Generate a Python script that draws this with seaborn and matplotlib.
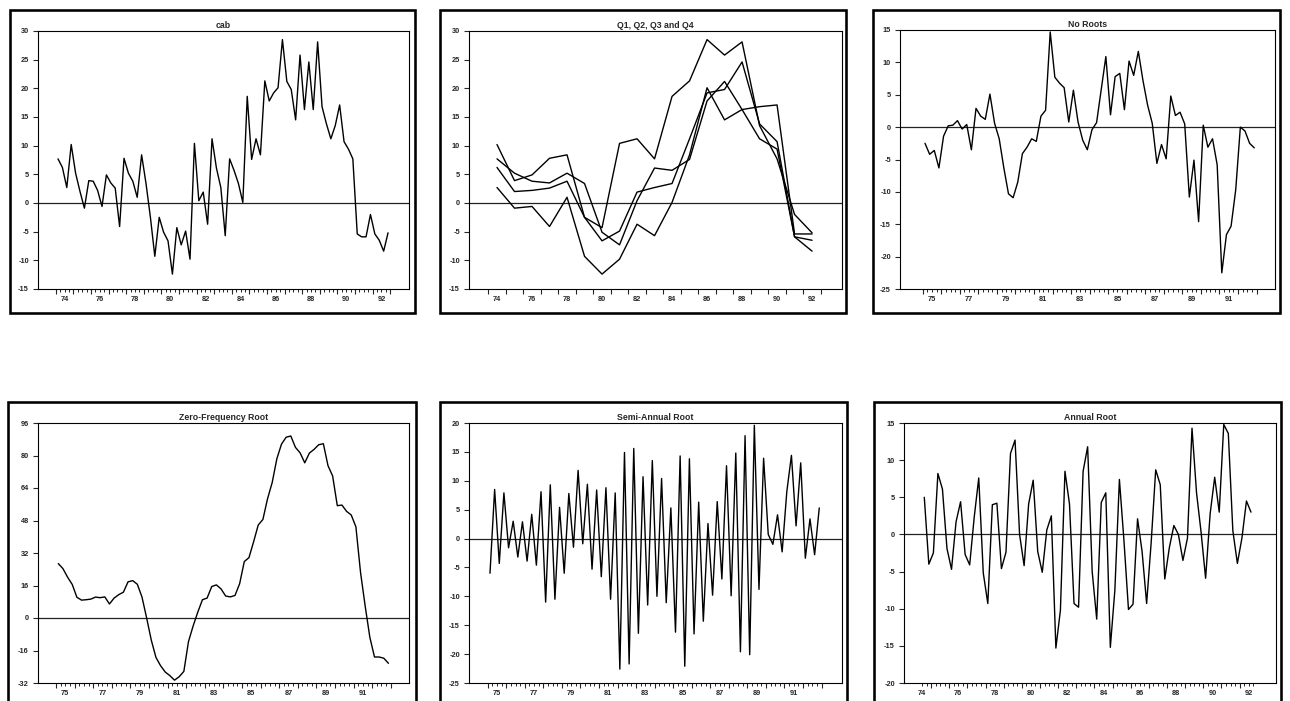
import numpy as np
import pandas as pd
import matplotlib
matplotlib.use("Agg")
import matplotlib.pyplot as plt
import seaborn as sns
from matplotlib.patches import Rectangle
from matplotlib.ticker import FixedLocator, FuncFormatter, NullFormatter

# ---------------- data ----------------
years = list(range(74, 93))          # 1974 .. 1992, quarterly

cab = [7.7, 6.2, 2.7, 10.2,
       5.2, 2.0, -0.9, 3.9,
       3.8, 2.2, -0.6, 4.9,
       3.5, 2.6, -4.1, 7.8,
       5.2, 3.8, 1.0, 8.4,
       3.4, -2.5, -9.3, -2.5,
       -5.1, -6.6, -12.4, -4.3,
       -7.3, -4.9, -9.8, 10.4,
       0.4, 1.9, -3.7, 11.2,
       6.1, 2.7, -5.7, 7.7,
       5.7, 3.4, 0.1, 18.6,
       7.6, 11.2, 8.4, 21.3,
       17.8, 19.2, 20.1, 28.5,
       21.2, 19.8, 14.5, 25.8,
       16.3, 24.6, 16.3, 28.1,
       16.8, 13.8, 11.2, 13.5,
       17.1, 10.7, 9.4, 7.7,
       -5.4, -5.9, -5.9, -2.0,
       -5.4, -6.5, -8.4, -5.2]

quarters = ["Q1", "Q2", "Q3", "Q4"]

no_roots = [-2.5, -4.2, -3.6, -6.3,
            -1.4, 0.2, 0.3, 1.0,
            -0.3, 0.4, -3.5, 2.9,
            1.7, 1.2, 5.1, 0.6,
            -1.8, -6.3, -10.3, -10.9,
            -8.5, -4.1, -3.1, -1.8,
            -2.2, 1.7, 2.6, 14.7,
            7.7, 6.8, 6.1, 0.8,
            5.7, 0.8, -2.0, -3.5,
            -0.4, 0.7, 5.8, 10.9,
            1.9, 7.8, 8.3, 2.7,
            10.2, 8.0, 11.7, 7.2,
            3.4, 0.6, -5.6, -2.7,
            -4.9, 4.8, 1.8, 2.3,
            0.5, -10.8, -5.1, -14.6,
            0.3, -3.1, -1.8, -5.8,
            -22.5, -16.6, -15.3, -9.7,
            0.0, -0.6, -2.5, -3.2]

zero_freq = [26.8, 24.3, 20.1, 16.5, 10.2, 8.8, 9.0, 9.3, 10.3, 10.0,
             10.4, 6.9, 9.8, 11.5, 12.7, 17.8, 18.4, 16.6, 10.3, 0.0,
             -10.9, -19.4, -23.5, -26.6, -28.4, -30.6, -28.9, -26.3, -11.6, -3.9,
             2.9, 9.0, 9.8, 15.5, 16.3, 14.3, 10.8, 10.4, 11.1, 16.9,
             27.8, 29.7, 37.5, 45.8, 48.5, 58.7, 66.7, 78.4, 85.6, 89.0,
             89.6, 84.0, 81.3, 76.4, 81.2, 83.0, 85.3, 85.8, 75.0, 69.9,
             55.3, 55.6, 52.5, 50.7, 44.9, 22.4, 5.8, -9.5, -19.2, -19.2,
             -19.8, -22.3]

semi_annual = [-6.0, 8.5, -4.3, 7.9, -1.6, 3.0, -3.2, 2.9, -3.9, 4.2,
               -4.6, 8.1, -11.0, 9.3, -10.5, 5.4, -6.0, 7.8, -1.5, 11.8,
               -0.9, 9.4, -5.3, 8.4, -6.6, 8.8, -10.5, 7.9, -22.6, 14.9,
               -21.7, 15.6, -16.4, 10.7, -11.5, 13.5, -10.0, 10.4, -11.1, 5.3,
               -16.2, 14.3, -22.1, 13.8, -16.5, 6.3, -14.3, 2.6, -9.8, 6.4,
               -7.0, 12.6, -9.9, 14.8, -19.6, 17.8, -20.1, 19.6, -8.8, 13.9,
               0.7, -1.0, 4.1, -2.3, 8.1, 14.4, 2.2, 13.1, -3.4, 3.4,
               -2.8, 5.3]

annual = [5.0, -4.0, -2.5, 8.2, 6.1, -1.9, -4.7, 1.7, 4.4, -2.7,
          -4.1, 2.3, 7.6, -5.2, -9.3, 4.0, 4.2, -4.6, -2.4, 10.9,
          12.7, 0.0, -4.2, 4.1, 7.3, -2.3, -5.1, 0.6, 2.5, -15.3,
          -10.2, 8.5, 4.1, -9.3, -9.8, 8.5, 11.8, -5.0, -11.4, 4.3,
          5.6, -15.2, -7.5, 7.4, -0.8, -10.1, -9.4, 2.1, -2.3, -9.3,
          -1.1, 8.7, 6.7, -6.0, -1.8, 1.2, 0.0, -3.5, -0.5, 14.3,
          5.6, 0.3, -5.9, 2.8, 7.7, 3.0, 14.8, 13.6, 0.5, -3.9,
          -0.5, 4.5, 3.0]

titles = ["cab", "Q1, Q2, Q3 and Q4", "No Roots",
          "Zero-Frequency Root", "Semi-Annual Root", "Annual Root"]

labels_even = [74, 76, 78, 80, 82, 84, 86, 88, 90, 92]
labels_odd = [75, 77, 79, 81, 83, 85, 87, 89, 91]

# ---------------- style ----------------
sns.set_style("ticks")
plt.rcParams["font.family"] = ["Liberation Sans Narrow", "Liberation Sans", "DejaVu Sans"]
plt.rcParams["font.weight"] = "bold"
plt.rcParams["font.stretch"] = "condensed"

W, H = 1290, 701
fig = plt.figure(figsize=(W / 100, H / 100), dpi=100)
PX = 0.72  # points per pixel


def add_ax(l, t, r, b):
    return fig.add_axes([l / W, 1 - b / H, (r - l) / W, (b - t) / H])


def frame(l, t, r, b):
    fig.add_artist(Rectangle((l / W, 1 - b / H), (r - l) / W, (b - t) / H,
                             transform=fig.transFigure, fill=False,
                             lw=2.6 * PX, ec="black", zorder=10))


def style_axes(ax, title, ylim, ystep):
    ax.set_title(title, fontsize=6.3, fontweight="bold", pad=2.5)
    ax.set_ylim(*ylim)
    ax.set_yticks(list(range(ylim[0], ylim[1] + 1, ystep)))
    ax.yaxis.set_major_formatter(FuncFormatter(lambda v, p: f"{int(round(v))}"))
    ax.tick_params(axis="y", which="major", direction="out", length=5 * PX,
                   width=0.8, labelsize=5.3, pad=3, left=True)
    for s in ax.spines.values():
        s.set_visible(True)
        s.set_linewidth(0.8)
        s.set_color("black")
    ax.axhline(0, color="#222222", lw=0.9, zorder=1)
    ax.set_xlabel("")
    ax.set_ylabel("")


def quarterly_ticks(ax, start, n, label_years):
    qb = np.round(start - 0.125 + np.arange(n + 1) * 0.25, 3)
    yb = [b for b in qb if abs((b + 0.125) - round(b + 0.125)) < 1e-6]
    mb = [b for b in qb if b not in yb]
    lab_pos = {round(y + 0.375, 3): str(y) for y in label_years}
    ax.xaxis.set_major_locator(FixedLocator(yb))
    ax.xaxis.set_major_formatter(NullFormatter())
    ax.xaxis.set_minor_locator(FixedLocator(mb))
    ax.xaxis.set_minor_formatter(
        FuncFormatter(lambda v, p: lab_pos.get(round(v, 3), "")))
    ax.tick_params(axis="x", which="major", direction="out", length=4.5 * PX,
                   width=0.8, bottom=True)
    ax.tick_params(axis="x", which="minor", direction="out", length=2.8 * PX,
                   width=0.7, bottom=True, labelsize=5.3, pad=3)


def quarterly_panel(ax, series, start, xlim, title, ylim, ystep, label_years):
    x = [start + k / 4 for k in range(len(series))]
    df = pd.DataFrame({"t": x, "v": series})
    sns.lineplot(data=df, x="t", y="v", ax=ax, color="black", lw=1.0)
    ax.set_xlim(*xlim)
    style_axes(ax, title, ylim, ystep)
    quarterly_ticks(ax, start, len(series), label_years)


# ---------------- panels ----------------
frame(10, 10, 415, 313)
frame(440, 10, 846, 313)
frame(873, 10, 1280, 313)
frame(8, 402, 416, 712)
frame(440, 402, 847, 712)
frame(874, 402, 1281, 712)

ax1 = add_ax(38, 31, 409, 289)
quarterly_panel(ax1, cab, 74.0, (72.864, 93.94), titles[0], (-15, 30), 5, labels_even)

# Q1..Q4 panel (annual values per quarter)
ax2 = add_ax(469, 31, 842, 289)
cab_tab = pd.DataFrame(np.array(cab).reshape(len(years), 4), columns=quarters)
cab_tab["year"] = years
long = cab_tab.melt(id_vars="year", var_name="quarter", value_name="v")
sns.lineplot(data=long, x="year", y="v", hue="quarter",
             palette=["black"] * 4, lw=1.0, legend=False, ax=ax2)
ax2.set_xlim(72.4, 93.71)
style_axes(ax2, titles[1], (-15, 30), 5)
ax2.xaxis.set_major_locator(FixedLocator([y - 0.5 for y in years] + [years[-1] + 0.5]))
ax2.xaxis.set_major_formatter(NullFormatter())
ax2.xaxis.set_minor_locator(FixedLocator(labels_even))
ax2.xaxis.set_minor_formatter(FuncFormatter(lambda v, p: f"{int(round(v))}"))
ax2.tick_params(axis="x", which="major", direction="out", length=4.5 * PX,
                width=0.8, bottom=True)
ax2.tick_params(axis="x", which="minor", length=0, labelsize=5.3, pad=5, bottom=True)

ax3 = add_ax(900, 30, 1275, 289)
quarterly_panel(ax3, no_roots, 75.0, (73.652, 93.868), titles[2], (-25, 15), 5, labels_odd)

ax4 = add_ax(38, 423, 409, 683)
quarterly_panel(ax4, zero_freq, 75.0, (73.909, 93.855), titles[3], (-32, 96), 16, labels_odd)

ax5 = add_ax(469, 423, 842, 683)
quarterly_panel(ax5, semi_annual, 75.0, (73.868, 93.976), titles[4], (-25, 20), 5, labels_odd)

ax6 = add_ax(904, 423, 1276, 683)
quarterly_panel(ax6, annual, 74.5, (73.382, 93.878), titles[5], (-20, 15), 5, labels_even)

fig.savefig("out.png", dpi=100, facecolor="white")
